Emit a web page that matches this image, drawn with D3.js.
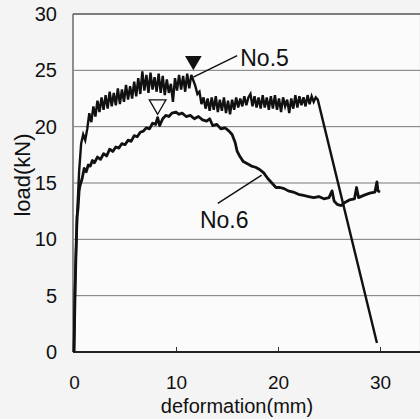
<!DOCTYPE html>
<html>
<head>
<meta charset="utf-8">
<script src="https://cdn.jsdelivr.net/npm/d3@7"></script>
<style>
  body { margin: 0; background: #f4f4f4; }
  svg { display: block; font-family: "Liberation Sans", Arial, sans-serif; }
</style>
</head>
<body>
<script>
// No.5 specimen (load-deformation)
var x5 = [0, 0.1, 0.3, 0.5, 0.7, 0.9, 1.1, 1.3, 1.5, 1.7,
  1.9, 2.1, 2.3, 2.5, 2.7, 2.9, 3.1, 3.3, 3.5, 3.7, 3.9, 4.1, 4.3, 4.5, 4.7, 4.9,
  5.1, 5.3, 5.5, 5.7, 5.9, 6.1, 6.3, 6.5, 6.7, 6.9, 7.1, 7.3, 7.5, 7.7, 7.9,
  8.1, 8.3, 8.5, 8.7, 8.9, 9.1, 9.3, 9.5, 9.7, 9.9, 10.1, 10.3, 10.5, 10.7, 10.9,
  11.1, 11.3, 11.5, 11.7, 11.9, 12.1, 12.3, 12.5, 12.7, 12.9, 13.1, 13.3, 13.5, 13.7, 13.9,
  14.1, 14.3, 14.5, 14.7, 14.9, 15.1, 15.3, 15.5, 15.7, 15.9, 16.1, 16.3, 16.5, 16.7, 16.9,
  17.1, 17.3, 17.5, 17.7, 17.9, 18.1, 18.3, 18.5, 18.7, 18.9, 19.1, 19.3, 19.5, 19.7, 19.9,
  20.1, 20.3, 20.5, 20.7, 20.9, 21.1, 21.3, 21.5, 21.7, 21.9, 22.1, 22.3, 22.5, 22.7, 22.9,
  23.1, 23.3, 23.5, 23.7, 23.9, 29.7];
var y5 = [0, 6, 12, 16, 18.5, 19.3, 18.8, 19.8, 21.2, 20.4,
  21.8, 20.9, 22.3, 21.3, 22.6, 21.5, 22.8, 21.6, 23.1, 21.8, 23.0, 21.9, 23.4, 22.0, 23.3, 22.2,
  23.7, 22.4, 23.6, 22.5, 24.0, 22.7, 24.3, 22.9, 24.9, 23.2, 24.6, 23.0, 24.8, 23.3, 24.4,
  23.1, 24.7, 23.0, 24.5, 22.8, 24.2, 23.0, 23.8, 22.2, 24.3, 23.2, 24.6, 23.3, 24.5, 23.1,
  24.7, 23.4, 24.6, 24.1, 23.6, 22.9, 23.1, 22.0, 22.6, 21.6, 22.5, 21.4, 22.6, 21.5, 22.7,
  21.3, 22.4, 21.4, 22.6, 21.2, 22.3, 21.1, 22.4, 21.5, 22.6, 21.7, 22.5, 21.8, 22.7, 21.9,
  22.6, 22.9, 21.8, 22.7, 21.7, 22.6, 21.6, 22.8, 21.7, 22.6, 21.5, 22.7, 21.6, 22.8, 21.5,
  22.5, 21.3, 22.6, 21.8, 22.4, 21.2, 22.5, 21.6, 22.8, 21.7, 22.7, 21.9, 22.6, 21.8, 22.8,
  22.0, 22.7, 22.2, 22.6, 22.4, 0.8];

// No.6 specimen
var x6 = [0, 0.1, 0.2, 0.3, 0.4, 0.5, 0.6, 0.8, 1.0, 1.2, 1.4, 1.6, 1.8, 2.0, 2.3, 2.6, 2.9,
  3.2, 3.5, 3.8, 4.1, 4.4, 4.7, 5.0, 5.3, 5.6, 5.9, 6.2, 6.5, 6.8, 7.1, 7.4, 7.7, 8.0,
  8.2, 8.4, 8.7, 9.0, 9.3, 9.6, 10.0, 10.3, 10.6, 11.0, 11.4, 11.8, 12.2, 12.6, 13.0,
  13.3, 13.6, 14.0, 14.4, 14.8, 15.2, 15.5, 15.8, 16.0, 16.3, 16.6, 17.0, 17.4, 17.8,
  18.2, 18.6, 19.0, 19.4, 19.8, 20.2, 20.6, 21.0, 21.5, 22.0, 22.5, 23.0, 23.5, 24.0,
  24.5, 25.0, 25.3, 25.5, 25.8, 26.2, 26.6, 27.0, 27.5, 27.7, 27.9, 28.4, 29.0, 29.5,
  29.7, 29.8, 30.0];
var y6 = [0, 5, 9, 12, 12.8, 14.3, 14.8, 15.4, 16.3, 16.0, 16.6, 16.5, 17.0, 16.8, 17.3, 17.1, 17.6,
  17.4, 18.0, 17.8, 18.2, 18.1, 18.5, 18.4, 18.8, 18.7, 19.2, 19.1, 19.5, 19.6, 19.9, 19.8, 20.3, 20.2,
  20.8, 20.1, 20.7, 21.0, 20.9, 21.2, 21.3, 21.1, 21.2, 20.9, 21.0, 20.7, 20.9, 20.6, 20.5,
  20.7, 20.1, 20.2, 19.8, 19.9, 19.6, 19.3, 18.6, 17.8, 17.3, 16.9, 16.7, 16.5, 16.4,
  16.2, 15.9, 15.4, 15.0, 14.6, 14.6, 14.5, 14.3, 14.2, 14.0, 13.9, 13.8, 13.7, 13.8,
  13.6, 13.7, 14.3, 13.4, 13.1, 13.0, 13.3, 13.5, 13.6, 14.6, 13.7, 13.9, 14.1, 14.2,
  15.1, 14.3, 14.2];

var xTicks = [0, 10, 20, 30];
var yTicks = [0, 5, 10, 15, 20, 25, 30];
var gridVals = [5, 10, 15, 20, 25];

var width = 420, height = 419;

var svg = d3.select("body").append("svg")
  .attr("width", width)
  .attr("height", height);

var x = d3.scaleLinear().domain([0, 35]).range([74, 431]);
var y = d3.scaleLinear().domain([0, 30]).range([352, 14]);

// plot area background
svg.append("rect")
  .attr("x", x(0) - 1).attr("y", y(30))
  .attr("width", width - x(0)).attr("height", y(0) - y(30))
  .attr("fill", "#fbfbfb");

// grid lines
svg.selectAll(".grid").data(gridVals).enter().append("line")
  .attr("x1", x(0)).attr("x2", width)
  .attr("y1", function(d){ return y(d); })
  .attr("y2", function(d){ return y(d); })
  .attr("stroke", "#777").attr("stroke-width", 1);

// frame: top and left
svg.append("line")
  .attr("x1", x(0) - 1).attr("x2", width)
  .attr("y1", y(30)).attr("y2", y(30))
  .attr("stroke", "#555").attr("stroke-width", 1.3);
svg.append("line")
  .attr("x1", x(0) - 1).attr("x2", x(0) - 1)
  .attr("y1", y(30)).attr("y2", y(0))
  .attr("stroke", "#555").attr("stroke-width", 1.3);

// axes
var xAxis = d3.axisBottom(x).tickValues(xTicks).tickSize(-5).tickPadding(24);
var gx = svg.append("g").attr("transform", "translate(0," + y(0) + ")").call(xAxis);
gx.select(".domain").remove();
gx.selectAll(".tick line").attr("stroke", "#333");
gx.selectAll(".tick text").attr("font-size", 19).attr("fill", "#111")
  .attr("font-family", "Liberation Sans, Arial, sans-serif");

var yAxis = d3.axisLeft(y).tickValues(yTicks).tickSize(0).tickPadding(17);
var gy = svg.append("g").attr("transform", "translate(" + x(0) + ",0)").call(yAxis);
gy.select(".domain").remove();
gy.selectAll(".tick text").attr("font-size", 20).attr("fill", "#111")
  .attr("font-family", "Liberation Sans, Arial, sans-serif");

// bottom axis line
svg.append("line")
  .attr("x1", x(0) - 1).attr("x2", width)
  .attr("y1", y(0)).attr("y2", y(0))
  .attr("stroke", "#222").attr("stroke-width", 2);

// axis titles
svg.append("text")
  .attr("x", 237).attr("y", 413)
  .attr("text-anchor", "middle")
  .attr("font-size", 20).attr("fill", "#111")
  .text("deformation(mm)");
svg.append("text")
  .attr("transform", "translate(30,175) rotate(-90)")
  .attr("text-anchor", "middle")
  .attr("font-size", 22).attr("fill", "#111")
  .text("load(kN)");

var line = d3.line()
  .x(function(d){ return x(d[0]); })
  .y(function(d){ return y(d[1]); });

var data6 = x6.map(function(v, i){ return [v, y6[i]]; });
var data5 = x5.map(function(v, i){ return [v, y5[i]]; });

svg.append("path").datum(data6)
  .attr("d", line)
  .attr("fill", "none").attr("stroke", "#111")
  .attr("stroke-width", 2.8).attr("stroke-linejoin", "round");

svg.append("path").datum(data5)
  .attr("d", line)
  .attr("fill", "none").attr("stroke", "#111")
  .attr("stroke-width", 2.4).attr("stroke-linejoin", "miter");

// labels with white box behind No.5
svg.append("rect")
  .attr("x", x(16.2)).attr("y", y(27.2))
  .attr("width", 65).attr("height", 22)
  .attr("fill", "#fbfbfb");

svg.append("line")
  .attr("x1", x(11.7)).attr("y1", y(24.4))
  .attr("x2", x(16.0)).attr("y2", y(26.3))
  .attr("stroke", "#111").attr("stroke-width", 1.5);
svg.append("text")
  .attr("x", x(16.3)).attr("y", y(25.4))
  .attr("font-size", 23).attr("fill", "#111")
  .text("No.5");

svg.append("line")
  .attr("x1", x(14.1)).attr("y1", y(13.2))
  .attr("x2", x(18.4)).attr("y2", y(15.7))
  .attr("stroke", "#111").attr("stroke-width", 1.5);
svg.append("text")
  .attr("x", x(12.35)).attr("y", y(11.0))
  .attr("font-size", 23).attr("fill", "#111")
  .text("No.6");

// peak markers (downward triangles)
var tri = d3.symbol().type(d3.symbolTriangle).size(120);
svg.append("path")
  .attr("d", tri)
  .attr("transform", "translate(" + x(11.7) + "," + y(25.85) + ") rotate(180)")
  .attr("fill", "#111");
svg.append("path")
  .attr("d", tri)
  .attr("transform", "translate(" + x(8.2) + "," + y(21.95) + ") rotate(180)")
  .attr("fill", "#fbfbfb").attr("stroke", "#111").attr("stroke-width", 1.3);
</script>
</body>
</html>
